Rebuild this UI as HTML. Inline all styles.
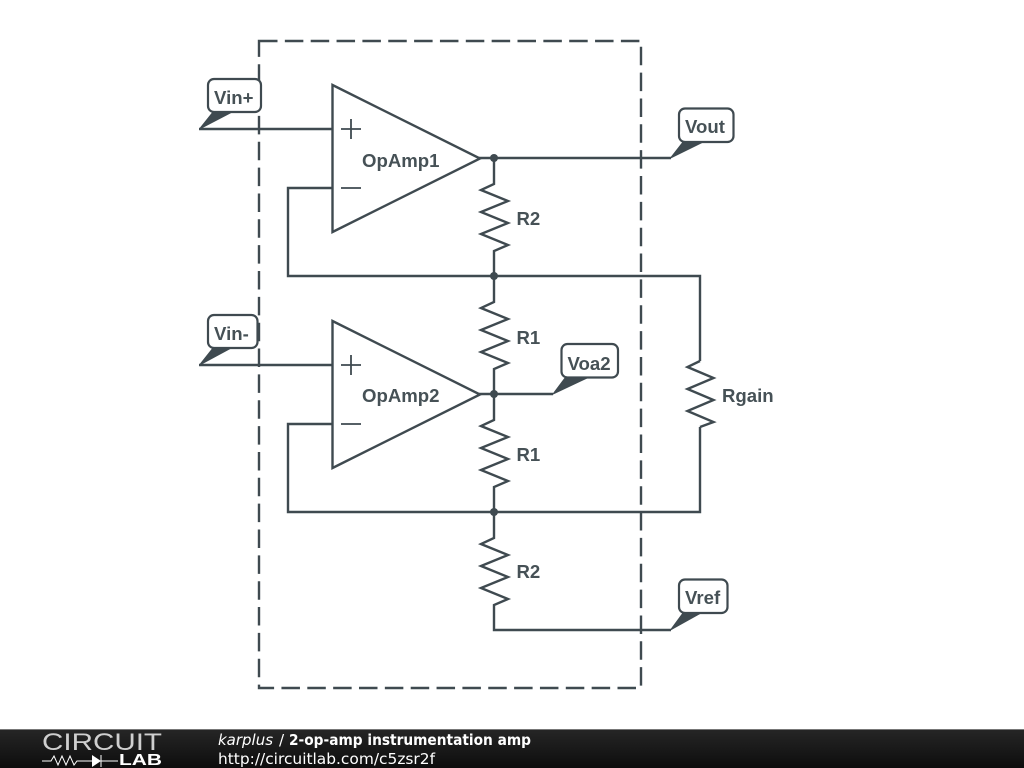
<!DOCTYPE html>
<html>
<head>
<meta charset="utf-8">
<title>2-op-amp instrumentation amp</title>
<style>
html,body{margin:0;padding:0;background:#fff;width:1024px;height:768px;overflow:hidden}
svg{display:block}
.w{fill:none;stroke:#3f4a50;stroke-width:2.4;stroke-linejoin:miter}
.t{font-family:"Liberation Sans",sans-serif;font-weight:bold;font-size:18.6px;fill:#465156}
.b{fill:#fff;stroke:#3f4a50;stroke-width:2.2}
.p{fill:#3f4a50;stroke:#3f4a50;stroke-width:1;stroke-linejoin:round}
.f{font-family:"DejaVu Sans",sans-serif;font-size:15.2px;fill:#fff}
</style>
</head>
<body>
<svg width="1024" height="768" viewBox="0 0 1024 768" xmlns="http://www.w3.org/2000/svg">
<defs>
<linearGradient id="g" x1="0" y1="0" x2="0" y2="1"><stop offset="0" stop-color="#262626"/><stop offset="1" stop-color="#0d0d0d"/></linearGradient>
</defs>
<rect width="1024" height="768" fill="#fff"/>

<path class="w" d="M259 41H641V688H259Z" stroke-dasharray="18.5 7.35"/>

<path class="w" d="M199 129H332.5M199 365H332.5"/>
<path class="w" d="M332.5 188H288V276H700V361"/>
<path class="w" d="M332.5 424H288V512H700V427"/>
<path class="w" d="M479 158H671M479 394H553"/>
<path class="w" d="M494 158V184L481 190L508 201L481 212L508 223L481 234L508 245L494 251V276"/>
<path class="w" d="M494 276V302L481 308L508 319L481 330L508 341L481 352L508 363L494 369V394"/>
<path class="w" d="M494 394V420L481 426L508 437L481 448L508 459L481 470L508 481L494 487V512"/>
<path class="w" d="M494 512V538L481 544L508 555L481 566L508 577L481 588L508 599L494 605V630H671"/>
<path class="w" d="M700 361L687.500 367L713.500 378L687.500 389L713.500 400L687.500 411L713.500 422L700 427"/>

<polygon class="w" style="fill:#fff" points="332.5,85 480,158.5 332.5,232"/>
<polygon class="w" style="fill:#fff" points="332.5,321 480,394.5 332.5,468"/>
<path fill="none" stroke="#3f4a50" stroke-width="1.8" d="M341 129H361M351 119V139M341 188H361M341 365H361M351 355V375M341 424H361"/>

<circle cx="494" cy="158" r="4" fill="#3f4a50"/>
<circle cx="494" cy="276" r="4" fill="#3f4a50"/>
<circle cx="494" cy="394" r="4" fill="#3f4a50"/>
<circle cx="494" cy="512" r="4" fill="#3f4a50"/>

<polygon class="p" points="199.5,129 213,112 232,112"/>
<rect class="b" x="208" y="79" width="53" height="33" rx="6"/>
<polygon class="p" points="199.5,365 213,348 231,348"/>
<rect class="b" x="208" y="315" width="49.5" height="33" rx="6"/>
<polygon class="p" points="670.5,158 683,142 703,142"/>
<rect class="b" x="679" y="108.500" width="54.500" height="33.500" rx="6"/>
<polygon class="p" points="670.500,630 683,613 701,613"/>
<rect class="b" x="679" y="579.500" width="48.500" height="33.500" rx="6"/>
<polygon class="p" points="553,394 565,378 587,378"/>
<rect class="b" x="561.500" y="344" width="56.500" height="33.500" rx="6"/>

<text class="t" x="214" y="104">Vin+</text>
<text class="t" x="214" y="340">Vin-</text>
<text class="t" x="685" y="133">Vout</text>
<text class="t" x="685" y="604">Vref</text>
<text class="t" x="567.500" y="370">Voa2</text>
<text class="t" x="362" y="167">OpAmp1</text>
<text class="t" x="362" y="402">OpAmp2</text>
<text class="t" x="516.500" y="225">R2</text>
<text class="t" x="516.500" y="344">R1</text>
<text class="t" x="516.500" y="461">R1</text>
<text class="t" x="516.500" y="578">R2</text>
<text class="t" x="722" y="402">Rgain</text>

<rect x="0" y="729" width="1024" height="39" fill="url(#g)"/>
<rect x="0" y="729" width="1024" height="1" fill="#777"/>
<text x="42" y="750" font-family="'Liberation Sans',sans-serif" font-size="24" fill="#cfcfcf" textLength="120" lengthAdjust="spacingAndGlyphs">CIRCUIT</text>
<text x="119" y="765" font-family="'Liberation Sans',sans-serif" font-size="16" font-weight="bold" fill="#fff" textLength="43" lengthAdjust="spacingAndGlyphs">LAB</text>
<path fill="none" stroke="#fff" stroke-width="1" d="M42 761H51L54 756L58 765L62 756L66 765L70 756L74 765L77 761H92M101 755V767M101 761H118"/>
<polygon points="92,755 92,767 101,761" fill="#fff"/>
<text class="f" x="218" y="745" font-style="italic" textLength="55" lengthAdjust="spacingAndGlyphs">karplus</text>
<text class="f" x="279" y="745">/</text>
<text class="f" x="289" y="745" font-weight="bold" textLength="242" lengthAdjust="spacingAndGlyphs">2-op-amp instrumentation amp</text>
<text class="f" x="218" y="764" textLength="217" lengthAdjust="spacingAndGlyphs">http://circuitlab.com/c5zsr2f</text>
</svg>
</body>
</html>
